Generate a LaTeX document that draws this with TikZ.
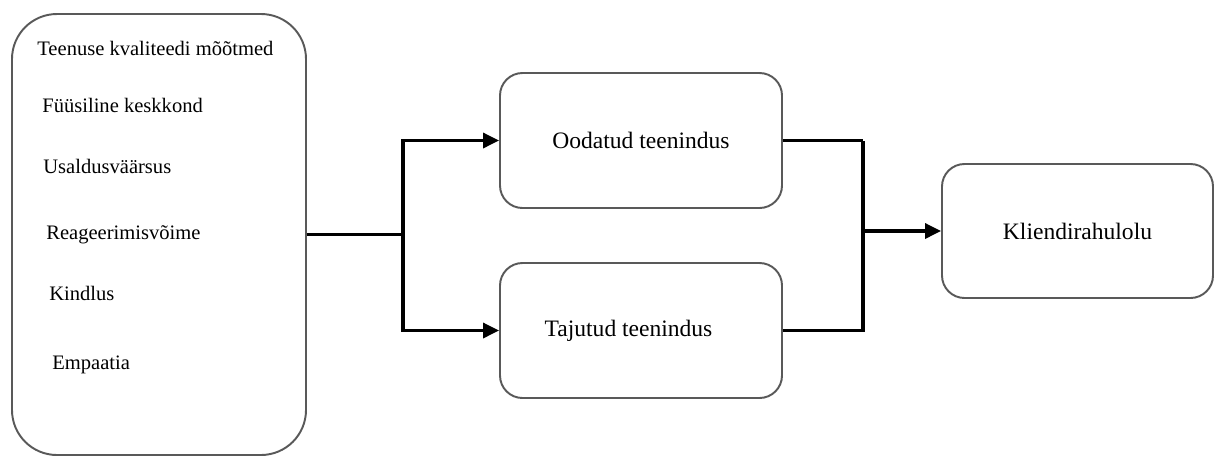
\documentclass[tikz,border=0pt]{standalone}
\usepackage{fontspec}
\setmainfont{Liberation Serif}
\usetikzlibrary{arrows.meta}

\tikzset{
  box/.style={draw=black!65,line width=1.1pt,rounded corners=0.45cm,
    minimum width=5.64cm,minimum height=2.7cm,inner sep=0pt,
    font=\fontsize{13.4}{16}\selectfont},
  item/.style={anchor=base west,inner sep=0pt,font=\fontsize{11.7}{14}\selectfont},
  conn/.style={line width=1.9pt,black}
}

\begin{document}
\begin{tikzpicture}[node distance=9.64cm,>={Triangle[length=0.32cm,width=0.3cm]}]
\useasboundingbox (0,0) rectangle (24.28,-9.14);

\node (dim) [box,rounded corners=0.9cm,minimum width=5.88cm,minimum height=8.82cm] at (3.18,-4.69) {};
\node (ood) [box,right of=dim,yshift=1.88cm] {Oodatud teenindus};
\node (taj) [box,below of=ood,yshift=5.84cm] {\hspace*{-0.5cm}Tajutud teenindus};
\node (kli) [box,right of=ood,xshift=-0.91cm,yshift=-1.81cm,minimum width=5.42cm,minimum height=2.68cm] {Kliendirahulolu};

% dimensions listed in the left box
\node (d0) [item] at (0.74,-1.10) {Teenuse kvaliteedi mõõtmed};
\node (d1) [item] at (0.84,-2.24) {Füüsiline keskkond};
\node (d2) [item] at (0.86,-3.46) {Usaldusväärsus};
\node (d3) [item] at (0.92,-4.78) {Reageerimisvõime};
\node (d4) [item] at (0.98,-6.00) {Kindlus};
\node (d5) [item] at (1.04,-7.38) {Empaatia};

\draw[conn] (dim.east) -- ++(1.92,0) coordinate (j1);
\draw[conn,->] (j1) |- (ood.west);
\draw[conn,->] (j1) |- (taj.west);

\draw[conn] (ood.east) -- ++(1.6,0) coordinate (j2);
\draw[conn] (taj.east) -| (j2);
\coordinate (j3) at (j2 |- kli.west);
\draw[conn,->] (j3) -- (kli.west);
\end{tikzpicture}
\end{document}
